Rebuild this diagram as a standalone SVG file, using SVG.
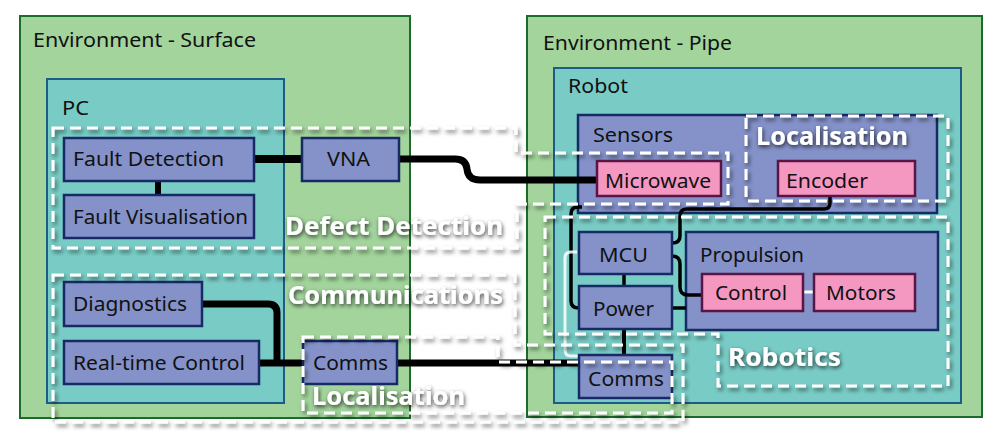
<svg xmlns="http://www.w3.org/2000/svg" width="999" height="435" viewBox="0 0 999 435">
<style>
text{font-family:"Noto Sans","Liberation Sans",sans-serif;font-size:20.5px;fill:#111}
.env{fill:#a3d49c;stroke:#1b6b2a;stroke-width:2}
.box{fill:#79ccc6;stroke:#1c5c86;stroke-width:2}
.node{fill:#8492c9;stroke:#172a66;stroke-width:2.5}
.pink{fill:#f498c2;stroke:#5a1545;stroke-width:2.5}
.dash{fill:none;stroke:#fff;stroke-width:3;stroke-dasharray:11 6;filter:url(#ds)}
.lbl{fill:#fff;font-size:25px;font-weight:bold;filter:url(#ts)}
.c{fill:none;stroke:#000;stroke-linecap:butt}
</style>
<defs>
<filter id="ds" x="-10%" y="-10%" width="120%" height="130%">
<feDropShadow dx="2" dy="3" stdDeviation="2" flood-color="#000" flood-opacity="0.55"/>
</filter>
<filter id="ts" x="-10%" y="-30%" width="120%" height="160%">
<feDropShadow dx="1" dy="2" stdDeviation="2" flood-color="#000" flood-opacity="0.75"/>
</filter>
</defs>

<g id="env-surface"><rect class="env" x="20" y="16" width="390" height="402"/><text x="33" y="47" textLength="223" lengthAdjust="spacingAndGlyphs">Environment - Surface</text></g>
<g id="env-pipe"><rect class="env" x="527" y="16" width="455" height="401"/><text x="543" y="50" textLength="189" lengthAdjust="spacingAndGlyphs">Environment - Pipe</text></g>
<g id="pc"><rect class="box" x="47" y="79" width="237" height="324"/><text x="62" y="115" textLength="27" lengthAdjust="spacingAndGlyphs">PC</text></g>
<g id="robot"><rect class="box" x="554" y="68" width="407" height="335"/><text x="568" y="93" textLength="60" lengthAdjust="spacingAndGlyphs">Robot</text></g>
<g id="sensors"><rect class="node" x="578" y="115" width="359" height="98"/><text x="593" y="142" textLength="80" lengthAdjust="spacingAndGlyphs">Sensors</text></g>
<g id="propulsion"><rect class="node" x="686" y="232" width="252" height="98"/><text x="700" y="262" textLength="104" lengthAdjust="spacingAndGlyphs">Propulsion</text></g>

<g id="connectors">
<path class="c" stroke-width="8" d="M254 159 L302 159"/>
<path class="c" stroke-width="6" d="M158 181 L158 195"/>
<path class="c" stroke-width="7" d="M399 159 L455 159 Q466 159 467 169 Q468 180 480 180 L597 180"/>
<path class="c" stroke-width="7" d="M202 304 L268 304 Q277 304 277 313 L277 363"/>
<path class="c" stroke-width="7" d="M259 363 L303 363"/>
<path class="c" stroke-width="7" d="M397 363 L579 363"/>
<path class="c" stroke-width="3.5" d="M624 274 L624 286"/>
<path class="c" stroke-width="4" d="M624 329 L624 355"/>
<path class="c" stroke-width="3.5" d="M672 308 L686 308"/>
<path class="c" stroke-width="3.5" d="M830 196 L830 203 Q830 209 824 209 L687 209 Q680 209 680 216 L680 236 Q680 243 672 243"/>
<path class="c" stroke-width="3.5" d="M672 256 Q680 256 680 264 L680 287 Q680 295 688 295 L702 295"/>
<path class="c" stroke-width="3.5" d="M582 207 L578 207 Q571 207 571 214 L571 301 Q571 308 579 308"/>
<path fill="none" stroke="#fff" stroke-opacity="0.85" stroke-width="3" d="M577 252 L571 252 Q565 252 565 258 L565 350 Q565 356 571 356 L579 356"/>
<path fill="none" stroke="#fff" stroke-width="3" d="M803 292 L814 292"/>
</g>

<g id="fault-detection"><rect class="node" x="64" y="138" width="190" height="43"/><text x="73" y="166" textLength="151" lengthAdjust="spacingAndGlyphs">Fault Detection</text></g>
<g id="fault-visualisation"><rect class="node" x="64" y="195" width="190" height="43"/><text x="73" y="224" textLength="175" lengthAdjust="spacingAndGlyphs">Fault Visualisation</text></g>
<g id="vna"><rect class="node" x="302" y="138" width="97" height="43"/><text x="327" y="166" textLength="43" lengthAdjust="spacingAndGlyphs">VNA</text></g>
<g id="diagnostics"><rect class="node" x="64" y="282" width="138" height="44"/><text x="73" y="311" textLength="114" lengthAdjust="spacingAndGlyphs">Diagnostics</text></g>
<g id="real-time-control"><rect class="node" x="64" y="341" width="195" height="43"/><text x="73" y="370" textLength="172" lengthAdjust="spacingAndGlyphs">Real-time Control</text></g>
<g id="comms-surface"><rect class="node" x="303" y="341" width="94" height="43"/><text x="313" y="370" textLength="75" lengthAdjust="spacingAndGlyphs">Comms</text></g>
<g id="microwave"><rect class="pink" x="597" y="161" width="124" height="35"/><text x="605" y="188" textLength="106" lengthAdjust="spacingAndGlyphs">Microwave</text></g>
<g id="encoder"><rect class="pink" x="778" y="161" width="137" height="35"/><text x="786" y="188" textLength="82" lengthAdjust="spacingAndGlyphs">Encoder</text></g>
<g id="mcu"><rect class="node" x="579" y="232" width="93" height="42"/><text x="599" y="262" textLength="49" lengthAdjust="spacingAndGlyphs">MCU</text></g>
<g id="power"><rect class="node" x="579" y="286" width="93" height="43"/><text x="593" y="316" textLength="61" lengthAdjust="spacingAndGlyphs">Power</text></g>
<g id="comms-robot"><rect class="node" x="579" y="355" width="93" height="43"/><text x="588" y="386" textLength="76" lengthAdjust="spacingAndGlyphs">Comms</text></g>
<g id="control"><rect class="pink" x="702" y="274" width="101" height="37"/><text x="715" y="300" textLength="72" lengthAdjust="spacingAndGlyphs">Control</text></g>
<g id="motors"><rect class="pink" x="814" y="274" width="101" height="37"/><text x="826" y="300" textLength="70" lengthAdjust="spacingAndGlyphs">Motors</text></g>

<g id="defect-detection"><path class="dash" d="M53 128 L516 128 L516 153 L728 153 L728 204 L517 204 L517 248 L53 248 Z"/><text class="lbl" x="285" y="235" textLength="218" lengthAdjust="spacingAndGlyphs">Defect Detection</text></g>
<g id="communications"><path class="dash" d="M53 275 L515 275 L515 345 L683 345 L683 422 L53 422 Z"/><text class="lbl" x="288" y="304" textLength="215" lengthAdjust="spacingAndGlyphs">Communications</text></g>
<g id="localisation-surface"><path class="dash" d="M303 337 L498 337 L498 362 L672 362 L672 413 L303 413 Z"/><text class="lbl" x="312" y="405" textLength="153" lengthAdjust="spacingAndGlyphs">Localisation</text></g>
<g id="localisation-robot"><path class="dash" d="M746 116 L948 116 L948 201 L746 201 Z"/><text class="lbl" x="756" y="145" textLength="152" lengthAdjust="spacingAndGlyphs">Localisation</text></g>
<g id="robotics"><path class="dash" d="M545 217 L948 217 L948 386 L718 386 L718 334 L545 334 Z"/><text class="lbl" x="728" y="366" textLength="113" lengthAdjust="spacingAndGlyphs">Robotics</text></g>
</svg>
